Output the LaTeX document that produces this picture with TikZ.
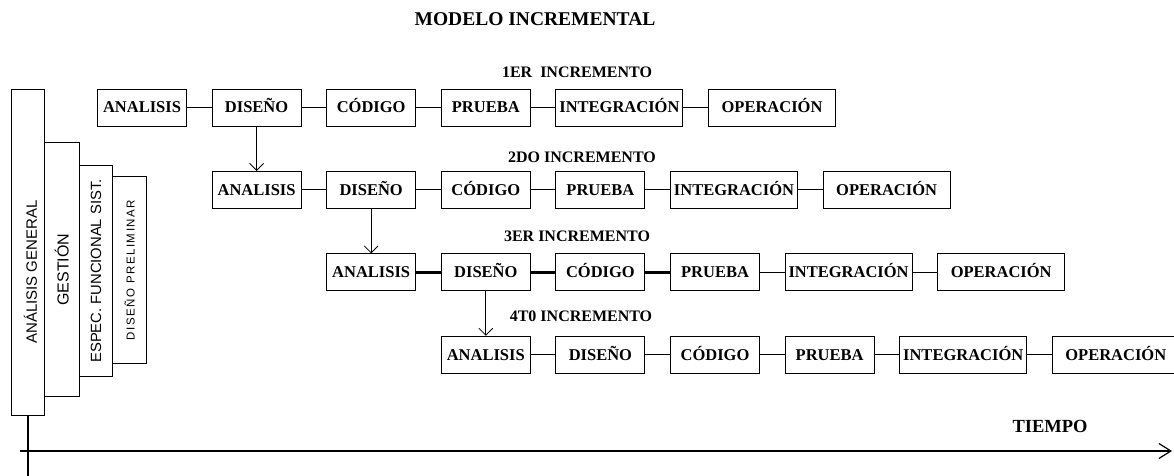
\documentclass[tikz,border=0pt]{standalone}
\usepackage{fontspec}
\setmainfont{Liberation Serif}
\setsansfont{Liberation Sans}
\newfontfamily\spacedsans[LetterSpace=13]{Liberation Sans}
\usetikzlibrary{positioning,arrows.meta}

\begin{document}
\begin{tikzpicture}[x=1pt, y=-1pt, node distance=24.7pt,
    main node/.style={rectangle, draw, line width=0.9pt, inner sep=0pt, minimum width=89pt, minimum height=37pt, text height=11pt, text depth=0pt, font=\fontsize{16.5}{18}\selectfont\bfseries},
    wide node/.style={main node, minimum width=127pt},
    side node/.style={rectangle, draw, line width=0.9pt, inner sep=0pt, rotate=90},
    next arrow/.style={-{Straight Barb[length=7pt,width=14pt]}, line width=0.8pt},
    thick link/.style={line width=2.4pt}]
        \tikzstyle{every node}=[font=\fontsize{16}{18}\selectfont\bfseries]
        \useasboundingbox (0,0) rectangle (1174,476);

          \node (title) at (535,19.5) {\fontsize{19.5}{21}\selectfont MODELO INCREMENTAL};

          % fases previas
          \node[side node, minimum width=326pt, minimum height=33pt] (ag) at (28,252.5) {};
          \node[rotate=90, font=\sffamily\fontsize{15}{17}\selectfont] (agt) at ([xshift=2.5pt, yshift=-19.5pt]ag.center) {ANÁLISIS GENERAL};
          \node[side node, minimum width=254pt, minimum height=35pt, font=\sffamily\fontsize{16}{18}\selectfont] (ge) at (61.8,269.7) {GESTIÓN};
          \node[side node, minimum width=211pt, minimum height=33.4pt, font=\sffamily\fontsize{14.8}{16}\selectfont] (ef) at (96,271) {ESPEC. FUNCIONAL SIST.};
          \node[side node, minimum width=186.6pt, minimum height=34pt, font=\spacedsans\fontsize{11.5}{13}\selectfont] (dp) at (129.7,270) {DISEÑO PRELIMINAR};

          % 1er incremento
          \node (inc1) at (577,72) {1ER~ INCREMENTO};
          \node[main node] (a1) at (142,107.5) {ANALISIS};
          \node[main node] (d1) [right=of a1] {DISEÑO};
          \node[main node] (c1) [right=of d1] {CÓDIGO};
          \node[main node] (p1) [right=of c1] {PRUEBA};
          \node[wide node] (i1) [right=of p1] {INTEGRACIÓN};
          \node[wide node] (o1) [right=of i1] {OPERACIÓN};

          % 2do incremento
          \node (inc2) at (582,157) {2DO INCREMENTO};
          \node[main node] (a2) [below=44.5pt of d1] {ANALISIS};
          \node[main node] (d2) [right=of a2] {DISEÑO};
          \node[main node] (c2) [right=of d2] {CÓDIGO};
          \node[main node] (p2) [right=of c2] {PRUEBA};
          \node[wide node] (i2) [right=of p2] {INTEGRACIÓN};
          \node[wide node] (o2) [right=of i2] {OPERACIÓN};

          % 3er incremento
          \node (inc3) at (577,236) {3ER INCREMENTO};
          \node[main node] (a3) [below=44.5pt of d2] {ANALISIS};
          \node[main node] (d3) [right=of a3] {DISEÑO};
          \node[main node] (c3) [right=of d3] {CÓDIGO};
          \node[main node] (p3) [right=of c3] {PRUEBA};
          \node[wide node] (i3) [right=of p3] {INTEGRACIÓN};
          \node[wide node] (o3) [right=of i3] {OPERACIÓN};

          % 4to incremento
          \node (inc4) at (581,316) {4T0 INCREMENTO};
          \node[main node] (a4) [below=44.5pt of d3] {ANALISIS};
          \node[main node] (d4) [right=of a4] {DISEÑO};
          \node[main node] (c4) [right=of d4] {CÓDIGO};
          \node[main node] (p4) [right=of c4] {PRUEBA};
          \node[wide node] (i4) [right=of p4] {INTEGRACIÓN};
          \node[wide node] (o4) [right=of i4] {OPERACIÓN};

          % tiempo
          \coordinate (v0) at (28,476);
          \coordinate (t0) at (20,451);
          \coordinate (t1) at (1172,451);
          \node (tiempo) at (1050,426) {\fontsize{18.5}{20}\selectfont TIEMPO};

          \path[line width=0.9pt]
            (a1) edge (d1)
            (d1) edge (c1)
                 edge[next arrow] (a2)
            (c1) edge (p1)
            (p1) edge (i1)
            (i1) edge (o1)
            (a2) edge (d2)
            (d2) edge (c2)
                 edge[next arrow] (a3)
            (c2) edge (p2)
            (p2) edge (i2)
            (i2) edge (o2)
            (a3) edge[thick link] (d3)
            (d3) edge[thick link] (c3)
                 edge[next arrow] (a4)
            (c3) edge[thick link] (p3)
            (p3) edge (i3)
            (i3) edge (o3)
            (a4) edge (d4)
            (d4) edge (c4)
            (c4) edge (p4)
            (p4) edge (i4)
            (i4) edge (o4);

          \draw[line width=1.2pt] (ag) -- (v0);
          \draw[line width=1.2pt, -{Straight Barb[length=12pt,width=15pt]}] (t0) -- (t1);

        \end{tikzpicture}
\end{document}
